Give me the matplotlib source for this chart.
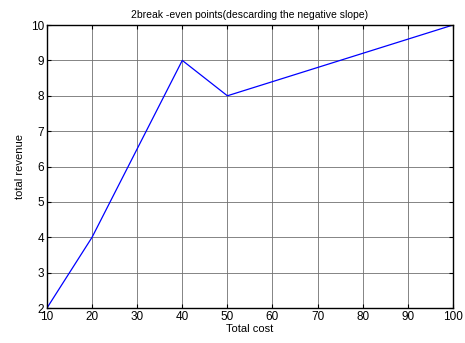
import matplotlib
matplotlib.use("Agg")
import matplotlib.pyplot as plt

total_cost = [10, 20, 40, 50, 100]
total_revenue = [2, 4, 9, 8, 10]
x_ticks = [10, 20, 30, 40, 50, 60, 70, 80, 90, 100]
y_ticks = [2, 3, 4, 5, 6, 7, 8, 9, 10]

plt.rcParams['font.family'] = ['Liberation Sans', 'DejaVu Sans']
plt.rcParams['font.size'] = 8

fig = plt.figure(figsize=(4.65, 3.43), dpi=100)
ax = fig.add_axes([0.101, 0.102, 0.873, 0.825])
ax.plot(total_cost, total_revenue, color='blue', linewidth=0.9)
ax.set_xlim(10, 100)
ax.set_ylim(2, 10)
ax.set_xticks(x_ticks)
ax.set_yticks(y_ticks)
ax.grid(True, color='#707070', linestyle='-', linewidth=0.6)
ax.tick_params(direction='in', top=True, right=True, length=3, width=0.8, pad=2, labelsize=8.5)
for s in ax.spines.values():
    s.set_linewidth(1.0)
ax.set_xlabel('Total cost', labelpad=1)
ax.set_ylabel('total revenue', labelpad=4)
ax.set_title('2break -even points(descarding the negative slope)', fontsize=7.5, pad=5)
fig.savefig('out.png', dpi=100)
